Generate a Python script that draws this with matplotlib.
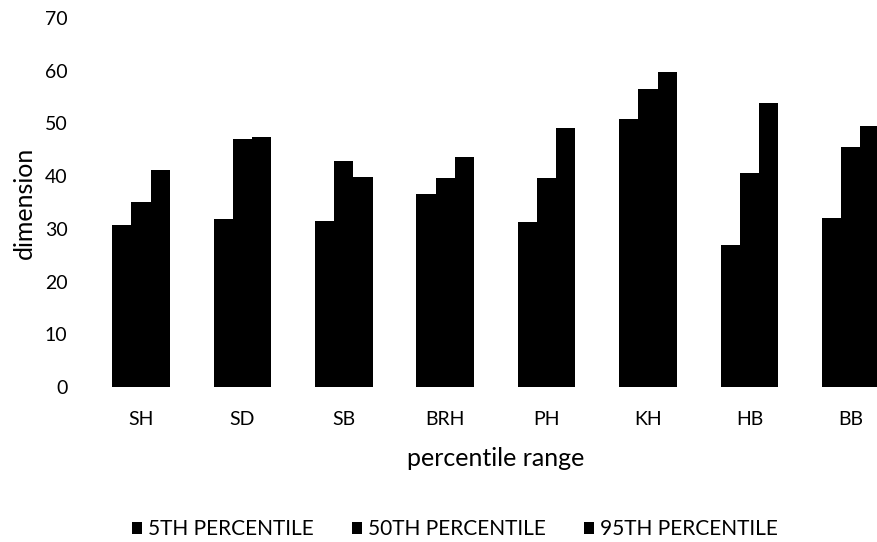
import numpy as np
import matplotlib
matplotlib.use("Agg")
import matplotlib.pyplot as plt

plt.rcParams['font.family'] = ['Lato', 'DejaVu Sans']

# ------------------------------------------------------------
# Data
# ------------------------------------------------------------
categories = ["SH", "SD", "SB", "BRH", "PH", "KH", "HB", "BB"]
p5 = [30.7, 31.9, 31.5, 36.6, 31.3, 50.9, 26.9, 32.1]
p50 = [35.1, 47.1, 42.8, 39.7, 39.7, 56.6, 40.6, 45.5]
p95 = [41.1, 47.4, 39.8, 43.7, 49.2, 59.8, 53.9, 49.6]
series_names = ["5TH PERCENTILE", "50TH PERCENTILE", "95TH PERCENTILE"]

# ------------------------------------------------------------
# Figure (plot area runs past the right edge, as in the scan)
# ------------------------------------------------------------
W, H = 877, 542
fig = plt.figure(figsize=(W / 100, H / 100), dpi=100)
left_px, right_px = 90.3, 901.5
bottom_px, top_px = 387, 18
ax = fig.add_axes([left_px / W, (H - bottom_px) / H,
                   (right_px - left_px) / W, (bottom_px - top_px) / H])

x = np.arange(len(categories))
w = 0.19
for i, vals in enumerate([p5, p50, p95]):
    ax.bar(x + (i - 1) * w, vals, width=w, color='black',
           label=series_names[i])

ax.set_xlim(-0.5, len(categories) - 0.5)
ax.set_ylim(0, 70)
ax.set_yticks(range(0, 71, 10))
ax.set_xticks(x)
ax.set_xticklabels(categories)
for s in ax.spines.values():
    s.set_visible(False)
ax.tick_params(length=0, labelsize=14, colors='black')
ax.tick_params(axis='y', pad=16.5)
ax.tick_params(axis='x', pad=17)

ax.set_xlabel('percentile range', fontsize=18, labelpad=14)
ax.set_ylabel('dimension', fontsize=18)
ax.yaxis.set_label_coords((36 - left_px) / (right_px - left_px), 0.5)

fig.legend(loc='center', bbox_to_anchor=(455 / W, 1 - 529 / H),
           ncol=3, frameon=False, fontsize=15, handlelength=0.5,
           handleheight=0.5, handletextpad=0.3, columnspacing=1.8)

fig.savefig('out.png', dpi=100)
